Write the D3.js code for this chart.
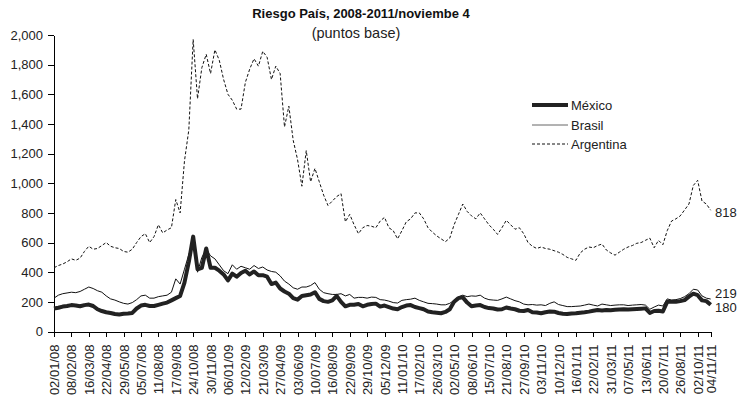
<!DOCTYPE html>
<html>
<head>
<meta charset="utf-8">
<script src="https://cdn.jsdelivr.net/npm/d3@7"></script>
<style>
  body { margin: 0; background: #fff; }
  svg { font-family: "Liberation Sans", Arial, sans-serif; }
  .axis text { font-size: 13px; fill: #222; }
  .axis path, .axis line { stroke: #000; stroke-width: 1; shape-rendering: crispEdges; }
</style>
</head>
<body>
<div id="graph"></div>
<script>
// etiquetas del eje x (cada 4 puntos, el ultimo es el dato final)
var tickLabels = ["02/01/08","08/02/08","16/03/08","22/04/08","29/05/08","05/07/08","11/08/08","17/09/08",
  "24/10/08","30/11/08","06/01/09","12/02/09","21/03/09","27/04/09","03/06/09","10/07/09","16/08/09",
  "22/09/09","29/10/09","05/12/09","11/01/10","17/02/10","26/03/10","02/05/10","08/06/10","15/07/10",
  "21/08/10","27/09/10","03/11/10","10/12/10","16/01/11","22/02/11","31/03/11","07/05/11","13/06/11",
  "20/07/11","26/08/11","02/10/11","04/11/11"];
var yTicks = [0,200,400,600,800,1000,1200,1400,1600,1800,2000];

// series (puntos base)
var mexico = [155,160,168,172,178,175,170,178,182,172,150,138,130,125,118,115,120,122,125,155,
  175,180,172,172,180,188,195,210,225,240,330,470,640,420,430,560,430,430,410,385,
  345,390,370,395,410,385,405,380,380,370,320,330,290,270,255,225,215,240,245,250,
  265,220,205,200,210,240,200,170,180,180,185,170,180,185,188,168,175,165,155,150,
  165,175,178,165,158,150,135,130,127,123,132,150,200,225,230,195,170,175,178,165,
  158,155,148,150,162,155,150,140,138,145,130,128,123,130,135,134,125,120,118,122,
  123,127,130,134,140,145,142,145,143,146,148,150,148,150,152,154,156,125,138,140,
  135,200,200,200,205,212,235,255,245,210,205,180];
var brasil = [225,245,255,260,265,262,270,285,300,290,275,265,240,220,212,200,190,185,195,215,
  240,245,225,225,235,240,245,265,355,320,420,520,600,400,500,555,510,490,450,410,
  390,450,420,440,430,420,445,425,435,415,405,400,375,340,320,295,285,300,300,310,
  330,285,262,255,250,250,255,240,250,225,230,230,225,232,230,215,212,205,195,192,
  210,215,218,225,210,200,190,188,185,180,180,190,210,235,245,235,240,238,245,225,
  215,212,210,220,232,220,208,200,185,180,182,178,180,175,190,200,182,175,168,168,
  170,172,178,185,178,172,185,180,175,178,180,180,175,178,180,182,178,150,165,178,
  172,220,212,215,222,235,255,285,280,240,225,219];
var argentina = [430,445,455,470,490,480,495,540,575,555,560,580,600,575,565,560,540,535,555,600,
  640,660,600,640,720,665,685,700,890,800,1150,1360,1970,1570,1780,1870,1740,1900,1830,1700,
  1600,1560,1500,1500,1680,1770,1840,1790,1890,1850,1700,1790,1740,1380,1520,1290,1160,980,1220,1010,
  1100,1010,920,850,880,910,930,740,790,720,660,700,715,710,700,745,770,700,680,625,
  680,740,760,800,800,760,700,670,645,625,606,630,720,790,860,810,780,760,800,760,
  720,690,655,700,750,720,690,700,660,600,575,560,570,560,555,545,535,520,500,490,
  480,530,555,570,565,580,590,550,530,515,535,555,570,580,595,600,615,630,565,615,
  585,680,745,760,780,820,860,985,1020,880,860,818];

var width = 737, height = 402;
var svg = d3.select("#graph").append("svg")
  .attr("width", width)
  .attr("height", height);

var xScale = d3.scaleLinear().domain([0, mexico.length - 1]).range([54, 710.7]);
var yScale = d3.scaleLinear().domain([0, 2000]).range([331.5, 35]);

// titulo
svg.append("text")
  .attr("x", 361).attr("y", 18)
  .attr("text-anchor", "middle")
  .style("font-size", "13px").style("font-weight", "bold").style("fill", "#111")
  .text("Riesgo País, 2008-2011/noviembe 4");
svg.append("text")
  .attr("x", 356).attr("y", 38)
  .attr("text-anchor", "middle")
  .style("font-size", "14.5px").style("fill", "#222")
  .text("(puntos base)");

// ejes
var yAxis = d3.axisLeft(yScale).tickValues(yTicks).tickSize(6).tickSizeOuter(0)
  .tickFormat(d3.format(","));
svg.append("g").attr("class", "axis")
  .attr("transform", "translate(54,0)")
  .call(yAxis)
  .selectAll("text").attr("x", -11);

var tickIdx = tickLabels.map(function(d, i) {
  return i < tickLabels.length - 1 ? i * 4 : mexico.length - 1;
});
var xAxis = d3.axisBottom(xScale).tickValues(tickIdx).tickSize(5).tickSizeOuter(0)
  .tickFormat(function(d, i) { return tickLabels[i]; });
svg.append("g").attr("class", "axis")
  .attr("transform", "translate(0," + yScale(0) + ")")
  .call(xAxis)
  .selectAll("text")
  .attr("transform", "rotate(-90)")
  .attr("text-anchor", "end")
  .attr("x", -13).attr("y", 0).attr("dy", "0.35em");

// lineas
var line = d3.line()
  .x(function(d, i) { return xScale(i); })
  .y(function(d) { return yScale(d); });

svg.append("path").datum(argentina)
  .attr("d", line)
  .style("fill", "none").style("stroke", "#111")
  .style("stroke-width", 1).style("stroke-dasharray", "3,2");
svg.append("path").datum(brasil)
  .attr("d", line)
  .style("fill", "none").style("stroke", "#111").style("stroke-width", 1);
svg.append("path").datum(mexico)
  .attr("d", line)
  .style("fill", "none").style("stroke", "#222")
  .style("stroke-width", 4).style("stroke-linejoin", "round");

// leyenda
var legend = [
  {name: "México", w: 4, dash: null, color: "#222", y: 105},
  {name: "Brasil", w: 1, dash: null, color: "#666", y: 125},
  {name: "Argentina", w: 1, dash: "3,2", color: "#111", y: 144}
];
var lg = svg.append("g").selectAll("g").data(legend).enter().append("g");
lg.append("line")
  .attr("x1", 532).attr("x2", 568)
  .attr("y1", function(d) { return d.y; }).attr("y2", function(d) { return d.y; })
  .style("stroke", function(d) { return d.color; })
  .style("stroke-width", function(d) { return d.w; })
  .style("stroke-dasharray", function(d) { return d.dash; });
lg.append("text")
  .attr("x", 571).attr("y", function(d) { return d.y; }).attr("dy", "0.35em")
  .style("font-size", "13px").style("fill", "#222")
  .text(function(d) { return d.name; });

// valores finales
var last = mexico.length - 1;
var ends = [
  {v: argentina[last], y: yScale(argentina[last]) + 2},
  {v: brasil[last], y: 293},
  {v: mexico[last], y: 307}
];
svg.append("g").selectAll("text").data(ends).enter().append("text")
  .attr("x", 715).attr("y", function(d) { return d.y; }).attr("dy", "0.35em")
  .style("font-size", "13px").style("fill", "#222")
  .text(function(d) { return d.v; });
</script>
</body>
</html>
